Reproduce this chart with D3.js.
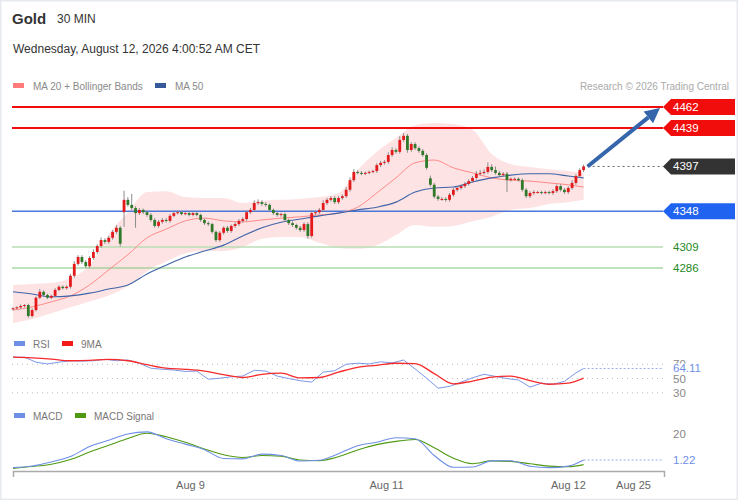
<!DOCTYPE html>
<html>
<head>
<meta charset="utf-8">
<script src="https://cdn.jsdelivr.net/npm/d3@7"></script>
<style>
  html, body { margin: 0; padding: 0; background: #fff; }
  svg { display: block; font-family: "Liberation Sans", Arial, sans-serif; }
</style>
</head>
<body>
<div id="chart"></div>
<script>
// Gold 30 MIN chart: candles, MA20 + Bollinger, MA50, RSI/9MA, MACD/Signal

const closes = [
  4242,4243,4244.5,4245.5,4233.5,4240,4253.5,4260,4256.5,4253.5,
  4255.5,4262,4265.5,4264,4265.5,4277.5,4290.5,4298,4292.5,4288,
  4297,4303.5,4310,4316.5,4314.5,4319,4325.5,4330,4312.5,4360.5,
  4355,4351.5,4346,4349.5,4347,4344,4338.5,4332,4336.5,4338.5,
  4337.5,4343,4346,4347,4345,4346,4344,4346,4344,4338.5,
  4335,4334,4325.5,4316.5,4324.5,4330,4326.5,4332,4334,4337.5,
  4339.5,4347,4349.5,4357,4358,4356,4355,4349.5,4346,4344,
  4345,4338.5,4335,4333,4330,4327.5,4334,4321,4346,4347,
  4349.5,4357,4360.5,4362.5,4358,4362.5,4364.5,4371.5,4382,4391,
  4390,4389,4390,4391,4392,4398.5,4401,4402,4409.5,4415,
  4413,4426,4430.5,4415,4421.5,4417,4414,4409.5,4395.5,4377,
  4364,4361.5,4361.5,4360.5,4366,4371.5,4373.5,4375.5,4378,4381,
  4384.5,4389,4390,4391,4396.5,4393,4390,4387.5,4389,4382,
  4383.5,4383.5,4382,4371.5,4364.5,4368,4369,4369,4368,4369,
  4368,4370,4375.5,4371.5,4369,4373.5,4379,4386.5,4393,4397
];

const opens = [
  4241,4242,4243,4244.5,4245.5,4233.5,4240,4253.5,4260,4256.5,
  4253.5,4255.5,4262,4265.5,4264,4265.5,4277.5,4290.5,4298,4292.5,
  4288,4297,4303.5,4310,4316.5,4314.5,4319,4325.5,4330,4347,
  4360.5,4355,4351.5,4346,4349.5,4347,4344,4338.5,4332,4336.5,
  4338.5,4337.5,4343,4346,4347,4345,4346,4344,4346,4344,
  4338.5,4335,4334,4325.5,4316.5,4324.5,4330,4326.5,4332,4334,
  4337.5,4339.5,4347,4349.5,4357,4358,4356,4355,4349.5,4346,
  4344,4345,4338.5,4335,4333,4330,4327.5,4334,4321,4346,
  4347,4349.5,4357,4360.5,4362.5,4358,4362.5,4364.5,4371.5,4382,
  4391,4390,4389,4390,4391,4392,4398.5,4401,4402,4409.5,
  4415,4413,4426,4430.5,4415,4421.5,4417,4414,4409.5,4384,
  4377,4364,4361.5,4361.5,4360.5,4366,4371.5,4373.5,4375.5,4378,
  4381,4384.5,4389,4390,4391,4396.5,4393,4390,4387.5,4389,
  4382,4383.5,4383.5,4382,4371.5,4364.5,4368,4369,4369,4368,
  4369,4368,4370,4375.5,4371.5,4369,4373.5,4379,4386.5,4393
];

// wick length above / below the body
const wickHi = [
  1,1,1.5,1,1.5,2,1.5,3,1.5,1.5,
  1.5,2,1.5,1.5,1.5,2,3,2,2,2,
  2,3,2,3,2,2,2,3,2,10,
  3,12,2,2,1.5,2,2,2,2,2,
  2,2,1.5,2,1.5,1.5,2,1.5,1.5,1.5,
  1.5,2,1.5,1.5,2,1.5,2,1.5,2,2,
  2,2,2,3,3,2,2,1.5,1.5,1.5,
  1.5,1.5,1.5,2,1.5,2,2,2,3,2,
  2,3,2,2,2,2,2,3,3,3,
  2,2,1.5,1.5,1.5,2,2,2,3,3,
  2,4,3,2,2,2,2,2,2,3,
  2,2,2,2,2,2,2,2,2,2,
  2,3,3,3,5,3,4,2,2,2,
  1.5,1.5,1.5,2,2,2,2,1.5,1.5,1.5,
  1.5,2,2,2,2,2,3,2,2,2
];
const wickLo = [
  1.5,1.5,1.5,1.5,2,1.5,1.5,1.5,1.5,1.5,
  1.5,1.5,1.5,1.5,1.5,2,2,2,2,2,
  2,2,2,2,2,2,2,2,3,16,
  2,2,16,2,2,2,2,2,2,2,
  2,2,1.5,1.5,1.5,1.5,1.5,1.5,1.5,2,
  2,2,2,2,2,2,2,2,2,2,
  2,2,2,2,2,2,2,2,2,2,
  2,2,2,2,2,2,2,3,2,2,
  2,2,2,2,2,2,2,2,2,2,
  1.5,1.5,1.5,1.5,1.5,2,2,2,2,2,
  2,2,2,3,2,2,2,2,2,2,
  2,2,2,2,2,2,2,2,2,2,
  2,2,2,2,2,2,2,2,2,13,
  1.5,1.5,1.5,2,2,2,2,1.5,1.5,1.5,
  1.5,2,2,2,2,2,2,2,2,2
];

// indicator lines, sampled every 5 candles (last sample = last candle)
const sampleIdx = [0,5,10,15,20,25,30,35,40,45,50,55,60,65,70,75,80,85,90,95,100,105,110,115,120,125,130,135,140,145,149];
const ma20 = [4240,4243.5,4249,4255.5,4267.5,4284,4300.5,4319,4328.5,4337.5,4340.5,4337.5,4336.5,4338.5,4340.5,4342,4344,4346,4352.5,4368,4384.5,4401,4404,4395.5,4390,4384.5,4382,4381,4379,4377,4374.5];
const bbUpper = [4267.5,4268.5,4269.5,4275,4289,4323,4347,4369,4370,4363.5,4362.5,4362.5,4357,4359.5,4360.5,4361.5,4363.5,4368,4393,4413,4428,4442,4444.5,4443.5,4437,4410.5,4399.5,4396.5,4394,4392,4390];
const bbLower = [4226,4230,4236.5,4243,4249.5,4256,4266,4282.5,4293,4302,4304.5,4304.5,4309,4318,4320,4320,4313.5,4308,4307,4311,4322,4333,4331,4332,4337,4342,4349.5,4351.5,4356,4358,4360.5];
const ma50 = [4260,4257.5,4254.5,4255.5,4258.5,4263,4267.5,4279.5,4289,4298,4304.5,4311,4321,4330,4336,4339.5,4343,4346,4349.5,4352.5,4358,4369,4373.5,4374.5,4380,4384.5,4387.5,4389,4389,4386.5,4384.5];

const rsiIdx = [0,3,6,9,12,15,18,21,24,27,30,33,36,39,42,45,48,51,54,57,60,63,66,69,72,75,78,81,84,87,90,93,96,99,102,105,108,111,114,117,120,123,126,129,132,135,138,141,144,147,149];
const rsi = [80,80,73,70.5,73,75,74.5,75,77,75,76,71.5,64.5,63,62,60,60.5,49,50.5,52.5,53.5,61.5,60.5,53.5,50,47,45,59,61,70,71.5,70.5,73.5,72,76,63.5,50.5,36.5,39,45,51,56,53,50,48,38,43.5,42,46,58,64.11];
const rsiMA = [80,79,77.3,75,75.5,77,75,69.5,64.5,63,60.5,55.5,51.5,56,57.5,51,51.5,59,65.8,68.5,71.5,71,57,42.5,46.5,52,53.5,47,42,43.5,50.5];

const macd = [-4.3,-3.1,-0.2,3.7,11,15.5,20,21.5,16.6,12.7,8.7,2.3,2,5.5,4.5,0.5,1,5.8,11.5,14,17.3,16.6,4.5,-4,-3.8,0.6,0.7,-3.3,-4.3,-3.2,1.22];
const macdSignal = [-4.8,-3.5,-1.8,1.6,7,11.8,16.8,20.5,18,14,9.2,5,3,4.5,4,1.2,0.8,3.6,8.5,12.3,14.7,16,10,2.5,-1.5,0.6,0.2,-1.5,-3.2,-3.6,-2.1];

// levels drawn on the right
const levels = [
  { value: 4462, label: '4462', kind: 'box', color: '#f20d0d', width: 2 },
  { value: 4439, label: '4439', kind: 'box', color: '#f20d0d', width: 2 },
  { value: 4397, label: '4397', kind: 'last', color: '#333333' },
  { value: 4348, label: '4348', kind: 'box', color: '#1f63f0', width: 1.5, line: '#4a78d8' },
  { value: 4309, label: '4309', kind: 'text', color: '#1f8a1f', line: '#b9deb3', width: 1.5 },
  { value: 4286, label: '4286', kind: 'text', color: '#1f8a1f', line: '#7fc67a', width: 1 }
];

const rsiTicks = [70, 50, 30];
const macdTickLabel = '20';
const xTickIdx = [46.2, 97.4, 144.9, 161.9];
const xTickLabels = ['Aug 9', 'Aug 11', 'Aug 12', 'Aug 25'];

const W = 738, H = 500;
const svg = d3.select('#chart').append('svg').attr('width', W).attr('height', H);

// frame
svg.append('rect').attr('x', 0.75).attr('y', 0.75).attr('width', W - 1.5).attr('height', H - 1.5)
  .attr('fill', '#fff').attr('stroke', '#e6eaef').attr('stroke-width', 1.5);

// header
svg.append('text').attr('x', 12).attr('y', 24).attr('font-size', 15).attr('font-weight', 'bold')
  .attr('fill', '#333').text('Gold');
svg.append('text').attr('x', 57).attr('y', 23).attr('font-size', 12).attr('fill', '#333').text('30 MIN');
svg.append('text').attr('x', 13).attr('y', 53).attr('font-size', 12).attr('fill', '#333')
  .text('Wednesday, August 12, 2026 4:00:52 AM CET');

function legendItem(x, y, color, label) {
  svg.append('rect').attr('x', x).attr('y', y - 3).attr('width', 11).attr('height', 5).attr('fill', color);
  svg.append('text').attr('x', x + 20).attr('y', y + 4).attr('font-size', 10).attr('fill', '#8a8a8a').text(label);
}
legendItem(13, 86, '#ff7b7b', 'MA 20 + Bollinger Bands');
legendItem(155, 86, '#35599a', 'MA 50');
svg.append('text').attr('x', 729).attr('y', 90).attr('text-anchor', 'end').attr('font-size', 10)
  .attr('fill', '#aaaaaa').text('Research \u00a9 2026 Trading Central');

// scales
const x = d3.scaleLinear().domain([0, 170]).range([13, 664]);
const y = d3.scaleLinear().domain([4286, 4462]).range([268, 107]);
const yRsi = d3.scaleLinear().domain([30, 70]).range([392.8, 364.3]);
const yMacd = d3.scaleLinear().domain([1.22, 20]).range([460, 434]);

const lineRight = 663;
const main = svg.append('g');

// Bollinger band
const band = sampleIdx.map((k, i) => ({ k, hi: bbUpper[i], lo: bbLower[i] }));
main.append('path').datum(band)
  .attr('d', d3.area().x(d => x(d.k)).y0(d => y(d.lo)).y1(d => y(d.hi)).curve(d3.curveMonotoneX))
  .attr('fill', '#fde0e0').attr('opacity', 0.9);

// level lines
levels.forEach(l => {
  if (l.kind === 'last') return;
  main.append('line').attr('x1', 12).attr('x2', lineRight)
    .attr('y1', y(l.value)).attr('y2', y(l.value))
    .attr('stroke', l.line || l.color).attr('stroke-width', l.width);
});

// moving averages
const mkLine = (vals, ys) => d3.line().x((d, i) => x(sampleIdx[i])).y(d => ys(d)).curve(d3.curveMonotoneX)(vals);
main.append('path').attr('d', mkLine(ma20, y)).attr('fill', 'none').attr('stroke', '#ff8a8a').attr('stroke-width', 1);
main.append('path').attr('d', mkLine(ma50, y)).attr('fill', 'none').attr('stroke', '#3f64a8').attr('stroke-width', 1.1);

// candles
const candles = closes.map((c, i) => ({
  i, o: opens[i], c,
  h: Math.max(opens[i], c) + wickHi[i],
  l: Math.min(opens[i], c) - wickLo[i]
}));
const cg = main.selectAll('.candle').data(candles).enter().append('g').attr('class', 'candle');
cg.append('line')
  .attr('x1', d => x(d.i)).attr('x2', d => x(d.i))
  .attr('y1', d => y(d.h)).attr('y2', d => y(d.l))
  .attr('stroke', '#8c8c8c').attr('stroke-width', 1);
cg.append('rect')
  .attr('x', d => x(d.i) - 1.4).attr('width', 2.8)
  .attr('y', d => y(Math.max(d.o, d.c)))
  .attr('height', d => Math.max(1, Math.abs(y(d.o) - y(d.c))))
  .attr('fill', d => d.c >= d.o ? '#e3191c' : '#2f7a2a');

// last price dotted line
const lastX = x(closes.length - 1);
main.append('line').attr('x1', lastX + 4).attr('x2', lineRight)
  .attr('y1', y(4397)).attr('y2', y(4397))
  .attr('stroke', '#666').attr('stroke-width', 1).attr('stroke-dasharray', '2,3');

// level labels
levels.forEach(l => {
  const cy = y(l.value);
  if (l.kind === 'text') {
    svg.append('text').attr('x', 673).attr('y', cy + 4).attr('font-size', 11.5)
      .attr('fill', l.color).text(l.label);
    return;
  }
  const pts = [[663, cy], [671, cy - 8], [735, cy - 8], [735, cy + 8], [671, cy + 8]];
  svg.append('path').attr('d', 'M' + pts.join('L') + 'Z').attr('fill', l.color);
  svg.append('text').attr('x', 673).attr('y', cy + 4).attr('font-size', 11.5)
    .attr('fill', '#fff').text(l.label);
});

// forecast arrow
const ax0 = lastX + 4, ay0 = y(4397), ax1 = 660, ay1 = y(4462) + 1;
const ang = Math.atan2(ay1 - ay0, ax1 - ax0);
const headLen = 15, headW = 7.5;
const bx = ax1 - headLen * Math.cos(ang), by = ay1 - headLen * Math.sin(ang);
svg.append('line').attr('x1', ax0).attr('y1', ay0).attr('x2', bx).attr('y2', by)
  .attr('stroke', '#3566ab').attr('stroke-width', 4);
svg.append('path')
  .attr('d', `M${ax1},${ay1}L${bx + headW * Math.sin(ang)},${by - headW * Math.cos(ang)}L${bx - headW * Math.sin(ang)},${by + headW * Math.cos(ang)}Z`)
  .attr('fill', '#3566ab');

// RSI panel
function legendSmall(x0, y0, color, label) {
  svg.append('rect').attr('x', x0).attr('y', y0 - 3).attr('width', 11).attr('height', 5).attr('fill', color);
  svg.append('text').attr('x', x0 + 19).attr('y', y0 + 4).attr('font-size', 10).attr('fill', '#777').text(label);
}
legendSmall(14, 344, '#6f8fe6', 'RSI');
legendSmall(62, 344, '#f51a1a', '9MA');

rsiTicks.forEach(t => {
  svg.append('line').attr('x1', 12).attr('x2', lineRight).attr('y1', yRsi(t)).attr('y2', yRsi(t))
    .attr('stroke', '#bbb').attr('stroke-width', 1).attr('stroke-dasharray', '1,4');
  svg.append('text').attr('x', 673).attr('y', yRsi(t) + 4).attr('font-size', 11.5).attr('fill', '#888').text(t);
});
svg.append('path')
  .attr('d', d3.line().x((d, i) => x(rsiIdx[i])).y(d => yRsi(d))(rsi))
  .attr('fill', 'none').attr('stroke', '#7b98e8').attr('stroke-width', 1);
svg.append('path')
  .attr('d', mkLine(rsiMA, yRsi))
  .attr('fill', 'none').attr('stroke', '#f52a2a').attr('stroke-width', 1.3);
const rsiLast = rsi[rsi.length - 1];
svg.append('line').attr('x1', lastX).attr('x2', lineRight).attr('y1', yRsi(rsiLast)).attr('y2', yRsi(rsiLast))
  .attr('stroke', '#9ab0ee').attr('stroke-dasharray', '2,2');
svg.append('rect').attr('x', 671).attr('y', yRsi(rsiLast) - 5).attr('width', 36).attr('height', 11).attr('fill', '#fff');
svg.append('text').attr('x', 673).attr('y', yRsi(rsiLast) + 4).attr('font-size', 11.5)
  .attr('fill', '#6f8fe6').text(rsiLast.toFixed(2));

// MACD panel
legendSmall(14, 416, '#6f8fe6', 'MACD');
legendSmall(75, 416, '#4f9a12', 'MACD Signal');
svg.append('text').attr('x', 673).attr('y', yMacd(20) + 4).attr('font-size', 11.5).attr('fill', '#888').text(macdTickLabel);
svg.append('path').attr('d', mkLine(macdSignal, yMacd))
  .attr('fill', 'none').attr('stroke', '#4f9a12').attr('stroke-width', 1.1);
svg.append('path').attr('d', mkLine(macd, yMacd))
  .attr('fill', 'none').attr('stroke', '#6f8fe6').attr('stroke-width', 1.1);
const macdLast = macd[macd.length - 1];
svg.append('line').attr('x1', lastX).attr('x2', lineRight).attr('y1', yMacd(macdLast)).attr('y2', yMacd(macdLast))
  .attr('stroke', '#9ab0ee').attr('stroke-dasharray', '2,2');
svg.append('text').attr('x', 673).attr('y', yMacd(macdLast) + 4).attr('font-size', 11.5)
  .attr('fill', '#6f8fe6').text(macdLast.toFixed(2));

// x axis
const xAxis = svg.append('g').attr('transform', 'translate(0,471)')
  .call(d3.axisBottom(x).tickValues(xTickIdx).tickFormat((d, i) => xTickLabels[i])
    .tickSizeInner(0).tickSizeOuter(6).tickPadding(10));
xAxis.select('.domain').attr('stroke', '#aaa').attr('stroke-width', 1.5);
xAxis.selectAll('text').attr('font-size', 11).attr('fill', '#666')
  .attr('font-family', '"Liberation Sans", Arial, sans-serif');
</script>
</body>
</html>
